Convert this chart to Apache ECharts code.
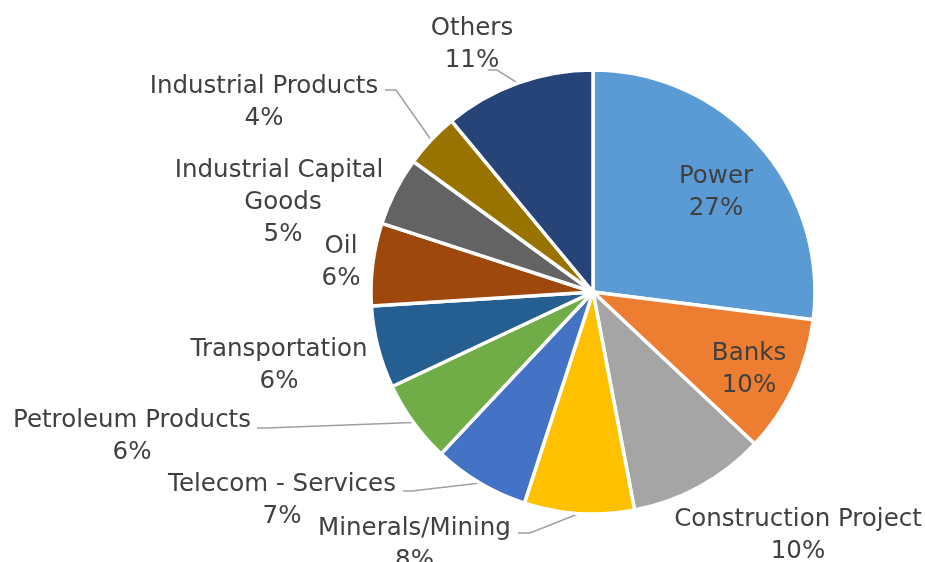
<!DOCTYPE html>
<html>
<head>
<meta charset="utf-8">
<script src="https://cdn.jsdelivr.net/npm/echarts@6/dist/echarts.min.js"></script>
<style>
  html, body { margin: 0; padding: 0; background: #ffffff; }
  #chart { width: 925px; height: 562px; }
</style>
</head>
<body>
<div id="chart"></div>
<script>
// Portfolio split by sector, clockwise from 12 o'clock
const sectors = [
  'Power', 'Banks', 'Construction Project', 'Minerals/Mining',
  'Telecom - Services', 'Petroleum Products', 'Transportation', 'Oil',
  'Industrial Capital Goods', 'Industrial Products', 'Others'
];
const shares = [27, 10, 10, 8, 7, 6, 6, 6, 5, 4, 11];
const sliceColors = [
  '#5B9BD5', '#ED7D31', '#A5A5A5', '#FFC000', '#4472C4', '#70AD47',
  '#255E91', '#9E480E', '#636363', '#997300', '#264478'
];

// Centre of each label block, in pixels
const labelSpots = [
  [716, 192.5], [749, 370], [798, 536], [414.5, 544.5], [282, 500.5],
  [132, 436.5], [279, 365.5], [341, 262.5], [283, 202.5], [264, 102.5], [472, 44.5]
];
// Leader lines: elbow point and end point next to the text
const leaders = {
  3: [[530, 533], [518, 533]],
  4: [[412, 491], [403, 491]],
  5: [[266, 428], [257, 428]],
  9: [[396, 90], [385, 90]],
  10: [[497, 70], [488, 70]]
};

const chart = echarts.init(document.getElementById('chart'), null, { renderer: 'canvas' });

const data = sectors.map((name, i) => {
  const item = {
    name: name,
    value: shares[i],
    itemStyle: { color: sliceColors[i] },
    labelLine: { show: !!leaders[i] }
  };
  if (name === 'Industrial Capital Goods') {
    item.label = { width: 220, overflow: 'break' };
  }
  return item;
});

chart.setOption({
  animation: false,
  backgroundColor: '#ffffff',
  series: [{
    type: 'pie',
    center: [593, 292],
    radius: [0, 222],
    startAngle: 90,
    clockwise: true,
    avoidLabelOverlap: false,
    percentPrecision: 0,
    silent: true,
    data: data,
    itemStyle: { borderColor: '#ffffff', borderWidth: 3.5 },
    label: {
      show: true,
      position: 'outside',
      formatter: '{b}\n{d}%',
      fontFamily: 'DejaVu Sans',
      fontSize: 24.5,
      lineHeight: 32,
      color: '#404040',
      align: 'center'
    },
    labelLine: {
      show: true,
      length: 10,
      length2: 10,
      lineStyle: { color: '#a0a0a0', width: 1.5 }
    },
    labelLayout: function (p) {
      const i = p.dataIndex;
      const spot = labelSpots[i];
      const out = { x: spot[0], y: spot[1], align: 'center', verticalAlign: 'middle' };
      const lead = leaders[i];
      if (lead && p.labelLinePoints) {
        out.labelLinePoints = [p.labelLinePoints[0], lead[0], lead[1]];
      }
      return out;
    },
    emphasis: { disabled: true }
  }]
});
</script>
</body>
</html>
